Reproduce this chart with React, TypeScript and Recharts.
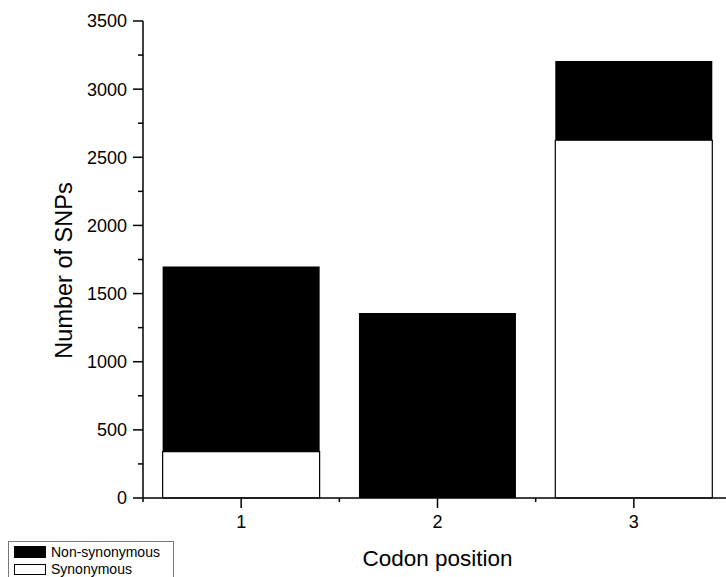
import { Bar, BarChart, Legend, XAxis, YAxis } from "recharts";

const categories = ["1", "2", "3"];
const synonymous = [340, 0, 2625];
const nonSynonymous = [1358, 1357, 581];
const yTicks = [0, 250, 500, 750, 1000, 1250, 1500, 1750, 2000, 2250, 2500, 2750, 3000, 3250, 3500];
const legendOrder = ["Non-synonymous", "Synonymous"];

const data = categories.map((c, i) => ({
  position: c,
  syn: synonymous[i],
  non: nonSynonymous[i],
}));

const FONT = '"Liberation Sans", Arial, sans-serif';

function YTick(props: any) {
  const { x, y, payload } = props;
  const axisX = x + 16; // tickSize 10 + tickMargin 6
  const major = payload.value % 500 === 0;
  return (
    <g>
      <line x1={axisX - (major ? 10 : 5)} x2={axisX} y1={y} y2={y} stroke="#000" strokeWidth={1.5} />
      {major && (
        <text x={x} y={y} dy="0.355em" textAnchor="end" fontSize={18} fontFamily={FONT} fill="#000">
          {payload.value}
        </text>
      )}
    </g>
  );
}

function XTick(props: any) {
  const { x, y, payload, index, visibleTicksCount } = props;
  const axisY = y - 17; // tickSize 10 + tickMargin 7
  const half = payload.offset || 98;
  const last = index === visibleTicksCount - 1;
  return (
    <g>
      <line x1={x} x2={x} y1={axisY} y2={axisY + 10} stroke="#000" strokeWidth={1.5} />
      <line x1={x - half} x2={x - half} y1={axisY} y2={axisY + 4} stroke="#000" strokeWidth={1.5} />
      {last && <line x1={x + half} x2={x + half} y1={axisY} y2={axisY + 4} stroke="#000" strokeWidth={1.5} />}
      <text x={x} y={y} dy="0.71em" textAnchor="middle" fontSize={18} fontFamily={FONT} fill="#000">
        {payload.value}
      </text>
    </g>
  );
}

function YLabel(props: any) {
  const vb = props.viewBox;
  const cx = vb.x + 72;
  const cy = vb.y + vb.height / 2 + 11;
  return (
    <text x={cx} y={cy} transform={`rotate(-90 ${cx} ${cy})`} textAnchor="middle" fontSize={23.5} fontFamily={FONT} fill="#000">
      Number of SNPs
    </text>
  );
}

function XLabel(props: any) {
  const vb = props.viewBox;
  return (
    <text x={vb.x + vb.width / 2} y={vb.y + 68} textAnchor="middle" fontSize={22.5} fontFamily={FONT} fill="#000">
      Codon position
    </text>
  );
}

function LegendBox(props: any) {
  const items = legendOrder
    .map((name) => (props.payload || []).find((p: any) => p.value === name))
    .filter(Boolean);
  return (
    <div
      style={{
        border: "1px solid #777",
        width: 166,
        height: 40,
        padding: "1px 0 0 5px",
        boxSizing: "border-box",
        fontFamily: FONT,
        fontSize: 14,
        color: "#000",
        background: "#fff",
      }}
    >
      {items.map((it: any) => (
        <div key={it.value} style={{ display: "flex", alignItems: "center", height: 17.5 }}>
          <span
            style={{
              display: "inline-block",
              width: 32,
              height: 11.5,
              boxSizing: "border-box",
              background: it.payload.fill,
              border: "1px solid #000",
              marginRight: 5,
            }}
          />
          <span style={{ lineHeight: "14px" }}>{it.value}</span>
        </div>
      ))}
    </div>
  );
}

export default function App() {
  return (
    <div style={{ position: "fixed", left: 0, top: 0, width: 726, height: 577, overflow: "hidden", background: "#fff" }}>
      <BarChart
        width={760}
        height={577}
        data={data}
        margin={{ top: 21, right: 28, left: 0, bottom: 0 }}
        barCategoryGap="10%"
      >
        <XAxis
          dataKey="position"
          height={79}
          tickSize={10}
          tickMargin={7}
          tickLine={false}
          tick={<XTick />}
          axisLine={{ stroke: "#000", strokeWidth: 1.5 }}
          label={{ content: <XLabel /> }}
        />
        <YAxis
          width={143}
          domain={[0, 3500]}
          ticks={yTicks}
          interval={0}
          tickSize={10}
          tickMargin={6}
          tickLine={false}
          tick={<YTick />}
          axisLine={{ stroke: "#000", strokeWidth: 1.5 }}
          label={{ content: <YLabel /> }}
        />
        <Legend
          layout="vertical"
          align="center"
          verticalAlign="middle"
          content={<LegendBox />}
          wrapperStyle={{ position: "absolute", left: 8, top: 541, width: 166, height: 40 }}
        />
        <Bar dataKey="syn" name="Synonymous" stackId="a" fill="#fff" stroke="#000" strokeWidth={1.2} isAnimationActive={false} />
        <Bar dataKey="non" name="Non-synonymous" stackId="a" fill="#000" isAnimationActive={false} />
      </BarChart>
    </div>
  );
}
